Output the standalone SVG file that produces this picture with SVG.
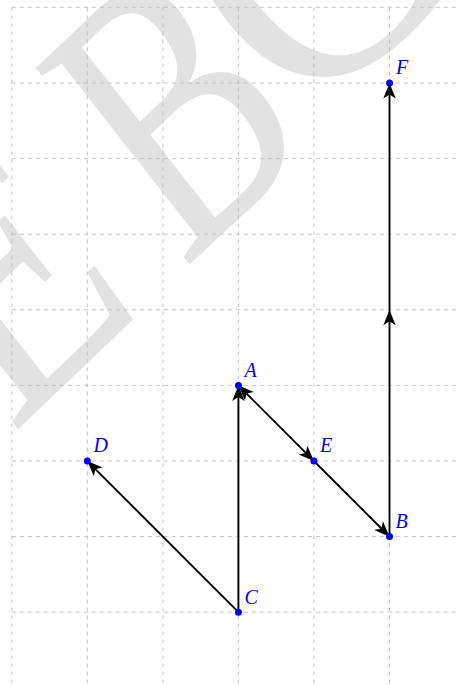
<svg xmlns="http://www.w3.org/2000/svg" width="457" height="685" viewBox="0 0 457 685">
<style>
.grid line{stroke:#bdbdbd;stroke-width:0.9;stroke-dasharray:4 4}
.edge{fill:none;stroke:#000;stroke-width:1.9}
.dot{fill:#0000ff}
.lbl{font-family:"Liberation Serif",serif;font-style:italic;font-size:20px;fill:#0000ff}
.wm{font-family:"Liberation Serif",serif;font-size:100px;fill:#e2e2e2}
</style>
<defs>
<marker id="ah" markerUnits="userSpaceOnUse" viewBox="-5 -7 18 14" refX="0" refY="0" markerWidth="18" markerHeight="14" orient="auto-start-reverse" overflow="visible">
<path d="M11.5,0 L-4,-6.2 L0,0 L-4,6.2 Z" fill="#000"/>
</marker>
</defs>
<rect width="457" height="685" fill="#fff"/>
<g id="watermark">
<text class="wm" transform="matrix(2.2 -2.1 2.35 3.0 11.7 435.4)" x="0" y="0">E</text>
<text class="wm" transform="matrix(2.0 -1.9 2.35 3.0 184 270)" x="0" y="0">B</text>
<text class="wm" transform="matrix(2.6 -2.1 2.35 3.0 292 126)" x="0" y="0">C</text>
</g>
<g class="grid" id="grid">
<line x1="11.8" y1="7.3" x2="11.8" y2="685"/>
<line x1="87.3" y1="7.3" x2="87.3" y2="685"/>
<line x1="162.9" y1="7.3" x2="162.9" y2="685"/>
<line x1="238.4" y1="7.3" x2="238.4" y2="685"/>
<line x1="313.9" y1="7.3" x2="313.9" y2="685"/>
<line x1="389.5" y1="7.3" x2="389.5" y2="685"/>
<line x1="11.8" y1="7.3" x2="457" y2="7.3"/>
<line x1="11.8" y1="83" x2="457" y2="83"/>
<line x1="11.8" y1="158.6" x2="457" y2="158.6"/>
<line x1="11.8" y1="234.2" x2="457" y2="234.2"/>
<line x1="11.8" y1="309.8" x2="457" y2="309.8"/>
<line x1="11.8" y1="385.4" x2="457" y2="385.4"/>
<line x1="11.8" y1="461" x2="457" y2="461"/>
<line x1="11.8" y1="536.6" x2="457" y2="536.6"/>
<line x1="11.8" y1="612.2" x2="457" y2="612.2"/>
</g>
<g id="connectors">
<path class="edge" d="M238.4,612.2 L238.4,396.9" marker-end="url(#ah)"/>
<path class="edge" d="M238.4,612.2 L95.4,469.1" marker-end="url(#ah)"/>
<path class="edge" d="M246.5,393.5 L305.8,452.9" marker-start="url(#ah)" marker-end="url(#ah)"/>
<path class="edge" d="M313.9,461 L381.4,528.5" marker-end="url(#ah)"/>
<path class="edge" d="M389.5,536.6 L389.5,321.3 L389.5,94.5" marker-mid="url(#ah)" marker-end="url(#ah)"/>
</g>
<g id="node-A"><circle class="dot" cx="238.4" cy="385.4" r="3.5"/><text class="lbl" x="244.5" y="376.5">A</text></g>
<g id="node-B"><circle class="dot" cx="389.5" cy="536.6" r="3.5"/><text class="lbl" x="395.5" y="528">B</text></g>
<g id="node-C"><circle class="dot" cx="238.4" cy="612.2" r="3.5"/><text class="lbl" x="244.5" y="603.5">C</text></g>
<g id="node-D"><circle class="dot" cx="87.3" cy="461" r="3.5"/><text class="lbl" x="93.5" y="451.5">D</text></g>
<g id="node-E"><circle class="dot" cx="313.9" cy="461" r="3.5"/><text class="lbl" x="320" y="451.5">E</text></g>
<g id="node-F"><circle class="dot" cx="389.5" cy="83" r="3.5"/><text class="lbl" x="396" y="74">F</text></g>
</svg>
